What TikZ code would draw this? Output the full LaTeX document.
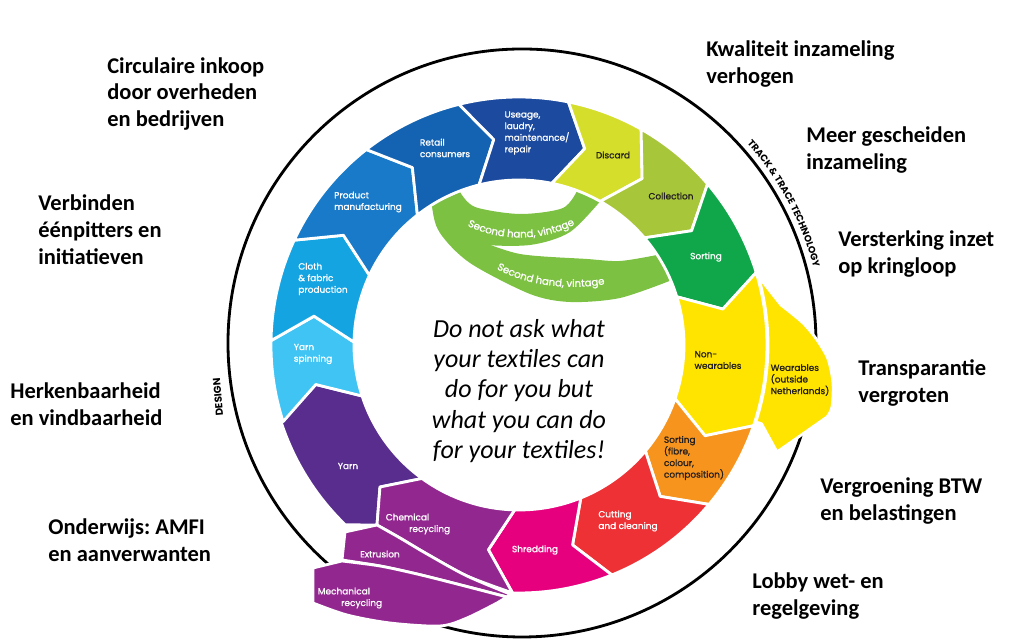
\documentclass[tikz,border=0pt]{standalone}
\usepackage{fontspec}
\setmainfont{Carlito}
\newfontfamily\segfont{Poppins}[FakeBold=1.1]
\newfontfamily\capfont{Poppins}
\usetikzlibrary{decorations.text}
\definecolor{yarnc}{RGB}{88,45,142}
\definecolor{spinc}{RGB}{64,196,244}
\definecolor{clothc}{RGB}{20,164,226}
\definecolor{prodc}{RGB}{24,122,200}
\definecolor{retailc}{RGB}{20,98,178}
\definecolor{usagec}{RGB}{27,74,158}
\definecolor{discardc}{RGB}{213,222,42}
\definecolor{collectc}{RGB}{168,198,58}
\definecolor{sortc}{RGB}{16,166,74}
\definecolor{wearc}{RGB}{255,228,0}
\definecolor{fibrec}{RGB}{247,148,29}
\definecolor{cutc}{RGB}{238,49,53}
\definecolor{shredc}{RGB}{230,0,126}
\definecolor{recyc}{RGB}{146,39,143}
\definecolor{bandc}{RGB}{124,193,66}
\definecolor{darktxt}{RGB}{35,31,32}
\def\ringseg[#1](#2:#3){\filldraw[#1] (#2:248) arc (#2:#3:248) -- ({#3-7}:207) -- (#3:165) arc (#3:#2:165) -- ({#2-7}:207) -- cycle;}
\tikzset{
  seg/.style={draw=white, line width=1.6pt, line join=round},
  seglbl/.style={font=\segfont\fontsize{5.1}{6.6}\selectfont, align=left, inner sep=0pt},
  goal/.style={font=\bfseries\fontsize{12.8}{15.3}\selectfont, align=left, anchor=west, inner sep=0pt},
}
\begin{document}
\frenchspacing
\begin{tikzpicture}[x=0.02cm, y=0.02cm]
			%%%%% START %%%%%
			\useasboundingbox (-519,-296) rectangle (493,345);
			
			\draw[line width=1.6pt] (3,2) circle (294);
			\node[font=\capfont\bfseries\fontsize{5.8}{6}\selectfont, rotate=95] (design) at (-301,-52) {DESIGN};
			\path[decorate, decoration={text along path, text align=center,
			  text={|\capfont\bfseries\fontsize{5.4}{6}\selectfont|TRACK {\&} TRACE TECHNOLOGY}}]
			  ([shift={(3,2)}]46:301) arc (46:10:301);
			
			% second hand loops
			\fill[bandc] plot[smooth] coordinates {(-87,140) (-79,112) (-49,82) (11,51) (51,43) (101,47) (153,65)}
			  -- plot[smooth] coordinates {(138,90) (101,84) (68,86) (1,91) (-44,106)} -- (-59,152) -- cycle;
			\fill[bandc] plot[smooth] coordinates {(-87,140) (-79,113) (-42,101) (11,100) (51,113) (84,147)}
			  -- plot[smooth] coordinates {(59,156) (44,137) (1,131) (-44,138) (-59,153)} -- cycle;
			\path[decorate, decoration={text along path, text align=center, text color=white,
			  text={|\segfont\fontsize{5.8}{7}\selectfont|Second hand, vintage}}]
			  (-64,126) .. controls (-25,101) and (30,101) .. (68,128);
			\path[decorate, decoration={text along path, text align=center, text color=white,
			  text={|\segfont\fontsize{5.8}{7}\selectfont|Second hand, vintage}}]
			  (-32,82) .. controls (0,60) and (50,52) .. (97,63);
			
			% ring
			\filldraw[seg, fill=yarnc] (226:250) arc (226:198:250) -- (191:207) -- (198:165) arc (198:234:165) -- (-139,-142) -- (-142,-180) -- cycle;
			\ringseg[seg, fill=spinc](198:179)
			\ringseg[seg, fill=clothc](179:155)
			\ringseg[seg, fill=prodc](155:128)
			\ringseg[seg, fill=retailc](128:104)
			\ringseg[seg, fill=usagec](104:78.5)
			\ringseg[seg, fill=discardc](78.5:60.5)
			\ringseg[seg, fill=collectc](60.5:40.5)
			\ringseg[seg, fill=sortc](40.5:17)
			\ringseg[seg, fill=wearc](17:-19)
			\ringseg[seg, fill=fibrec](-19:-40)
			\ringseg[seg, fill=cutc](-40:-68)
			\ringseg[seg, fill=shredc](-68:-91.5)
			
			\filldraw[seg, fill=wearc] (16:249) -- plot[smooth] coordinates {(262,40) (284,22) (298,5) (309,-14) (314,-38) (313,-62) (308,-72)}
			  -- (258,-107) -- (-18:255) -- (-18:249) arc (-18:16:249) -- cycle;
			
			% recycling
			\filldraw[seg, fill=recyc] (-139,-142) -- (234:165) arc (234:268.5:165) -- (261.5:207)
			  -- plot[smooth] coordinates {(268.5:248) (-52,-231) (-92,-209) (-119,-193) (-142,-180)} -- cycle;
			\filldraw[seg, fill=recyc] (-177,-215) -- (-174,-187)
			  -- plot[smooth] coordinates {(-142,-180) (-119,-193) (-92,-209) (-52,-231) (-9,-249)}
			  -- plot[smooth] coordinates {(-12,-252) (-62,-239) (-102,-229) (-139,-221) (-177,-215)} -- cycle;
			\filldraw[seg, fill=recyc] (-206,-258) -- (-206,-223)
			  -- plot[smooth] coordinates {(-177,-216) (-139,-221) (-102,-229) (-62,-239) (-12,-252)}
			  -- plot[smooth] coordinates {(-22,-258) (-52,-273) (-79,-281) (-129,-278) (-172,-270) (-206,-258)} -- cycle;
			
			% ring labels
			\node[seglbl, text=white] (usage) at (18,212) {Useage,\\laudry,\\maintenance/\\repair};
			\node[seglbl, text=white] (retail) at (-74,197) {Retail\\consumers};
			\node[seglbl, text=white] (product) at (-151,143) {Product\\manufacturing};
			\node[seglbl, text=white] (cloth) at (-196,66) {Cloth\\\& fabric\\production};
			\node[seglbl, text=white] (spinning) at (-206,-9) {Yarn\\spinning};
			\node[seglbl, text=white] (yarn) at (-171,-121) {Yarn};
			\node[seglbl, text=white] (chemical) at (-101,-179) {Chemical\\\hspace*{2.6em}recycling};
			\node[seglbl, text=white] (extrusion) at (-139,-209) {Extrusion};
			\node[seglbl, text=white] (mechanical) at (-169,-253) {Mechanical\\\hspace*{2.6em}recycling};
			\node[seglbl, text=white] (shredding) at (16,-205) {Shredding};
			\node[seglbl, text=white] (cutting) at (109,-176) {Cutting\\and cleaning};
			\node[seglbl, text=darktxt] (fibre) at (175,-113) {Sorting\\(fibre,\\colour,\\composition)};
			\node[seglbl, text=darktxt] (nonwear) at (199,-15) {Non-\\wearables};
			\node[seglbl, text=darktxt] (wear) at (281,-35) {Wearables\\(outside\\Netherlands)};
			\node[seglbl, text=white] (sorting) at (187,88) {Sorting};
			\node[seglbl, text=darktxt] (collection) at (152,149) {Collection};
			\node[seglbl, text=darktxt] (discard) at (94,190) {Discard};
			
			\node[font=\itshape\fontsize{14.8}{17.3}\selectfont, align=center] (quote) at (0,-46) {Do not ask what\\your textiles can\\do for you but\\what you can do\\for your textiles!};
			
			% goals
			\node[goal] (inkoop) at (-412,251) {Circulaire inkoop\\door overheden\\en bedrijven};
			\node[goal] (verbinden) at (-481,115) {Verbinden\\éénpitters en\\initiatieven};
			\node[goal] (herkenbaar) at (-509,-59) {Herkenbaarheid\\en vindbaarheid};
			\node[goal] (onderwijs) at (-471,-195) {Onderwijs: AMFI\\en aanverwanten};
			\node[goal] (kwaliteit) at (187,281) {Kwaliteit inzameling\\verhogen};
			\node[goal] (gescheiden) at (287,195) {Meer gescheiden\\inzameling};
			\node[goal] (kringloop) at (319,91) {Versterking inzet\\op kringloop};
			\node[goal] (transparant) at (339,-38) {Transparantie\\vergroten};
			\node[goal] (btw) at (301,-156) {Vergroening BTW\\en belastingen};
			\node[goal] (lobby) at (233,-251) {Lobby wet- en\\regelgeving};
			%%%%% END %%%%%
\end{tikzpicture}
\end{document}
